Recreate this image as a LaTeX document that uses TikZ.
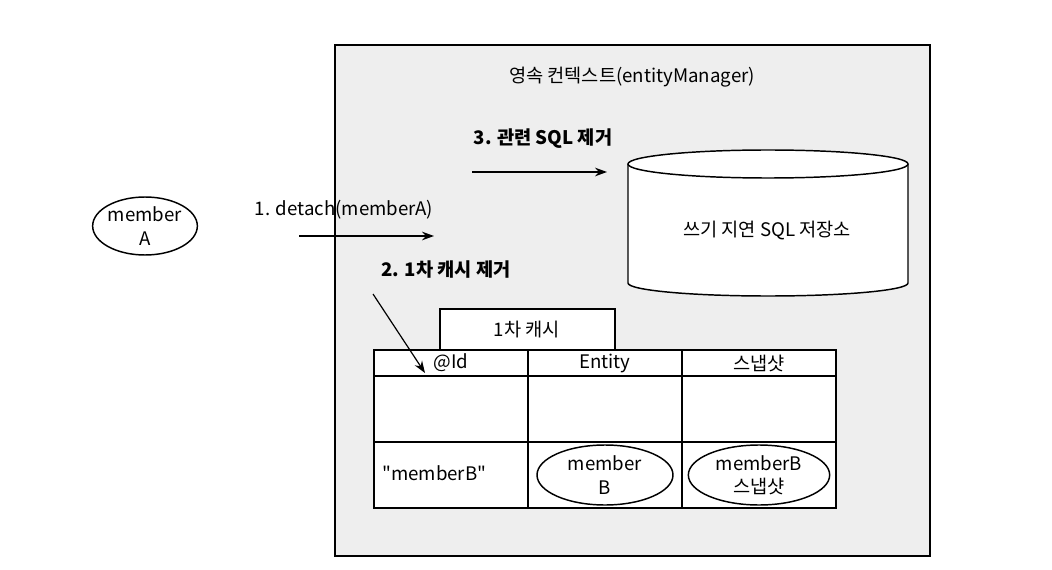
\documentclass[tikz,border=0pt]{standalone}
\usepackage{fontspec}
\setmainfont{Noto Sans CJK KR}
\newfontfamily\rawfont{Noto Sans CJK KR}
\usepackage{xcolor}
\usetikzlibrary{arrows.meta}
\usetikzlibrary{shapes.geometric}
\definecolor{ctxgray}{RGB}{238,238,238}
\tikzset{
	line/.style={black, line width=1.1pt},
	arr/.style={-{Stealth[length=9pt,width=6.5pt]}, black, line width=0.9pt},
	txt/.style={font=\fontsize{14}{17.5}\selectfont, inner sep=0pt, align=center},
	btxt/.style={font=\fontsize{14}{17.5}\selectfont\bfseries, inner sep=0pt},
	obj/.style={draw, ellipse, line width=1.1pt, fill=white, inner sep=0pt, align=center, font=\fontsize{14}{17.5}\selectfont},
}

\begin{document}
\begin{tikzpicture}[x=0.75pt, y=-0.75pt]
				\useasboundingbox (0,0) rectangle (1052,570);
				\draw[line, line width=1.4pt, fill=ctxgray] (335,45) rectangle (930,556);
				\node[txt] (T) at (632,77){영속 컨텍스트(entityManager)};
				% cylinder
				\draw[line, fill=white] (628,164) -- (628,283) arc[start angle=180, end angle=0, x radius=140, y radius=13] -- (908,164);
				\draw[line, fill=white] (768,164) ellipse [x radius=140, y radius=14];
				\node[txt] (S) at (767,230){쓰기 지연 SQL 저장소};
				\node[btxt] (L3) at (543,139){3. 관련 SQL 제거};
				\coordinate (P1) at (472,172);
				\coordinate (P2) at (607,172);
				\draw[arr] (P1) -- (P2);
				% member A
				\node[obj, minimum width=75pt, minimum height=43.5pt] (A) at (145,226){member\\A};
				\node[txt] (L1) at (344,210){1. detach(memberA)};
				\coordinate (D1) at (299,236);
				\coordinate (D2) at (434,236);
				\draw[arr] (D1) -- (D2);
				\node[btxt] (L2) at (446,270){2. 1차 캐시 제거};
				\coordinate (C1) at (373,294);
				\coordinate (C2) at (425,373);
				% cache table
				\draw[line, fill=white] (440,309) rectangle (615,350);
				\node[txt] (K) at (527,330){1차 캐시};
				\draw[line, fill=white] (374,350) rectangle (836,508);
				\draw[line] (374,376) -- (836,376);
				\draw[line] (374,442) -- (836,442);
				\draw[line] (528,350) -- (528,508);
				\draw[line] (682,350) -- (682,508);
				\node[txt] (H1) at (451,363){@Id};
				\node[txt] (H2) at (605,363){Entity};
				\node[txt] (H3) at (759,363){스냅샷};
				\node[txt, anchor=west] (R1) at (382,473){\rawfont "memberB"};
				\node[obj, minimum width=102pt, minimum height=45pt] (B) at (605,475){member\\B};
				\node[obj, minimum width=106pt, minimum height=45pt] (BS) at (759,475){memberB\\스냅샷};
				\draw[arr] (C1) -- (C2);
			\end{tikzpicture}
\end{document}
